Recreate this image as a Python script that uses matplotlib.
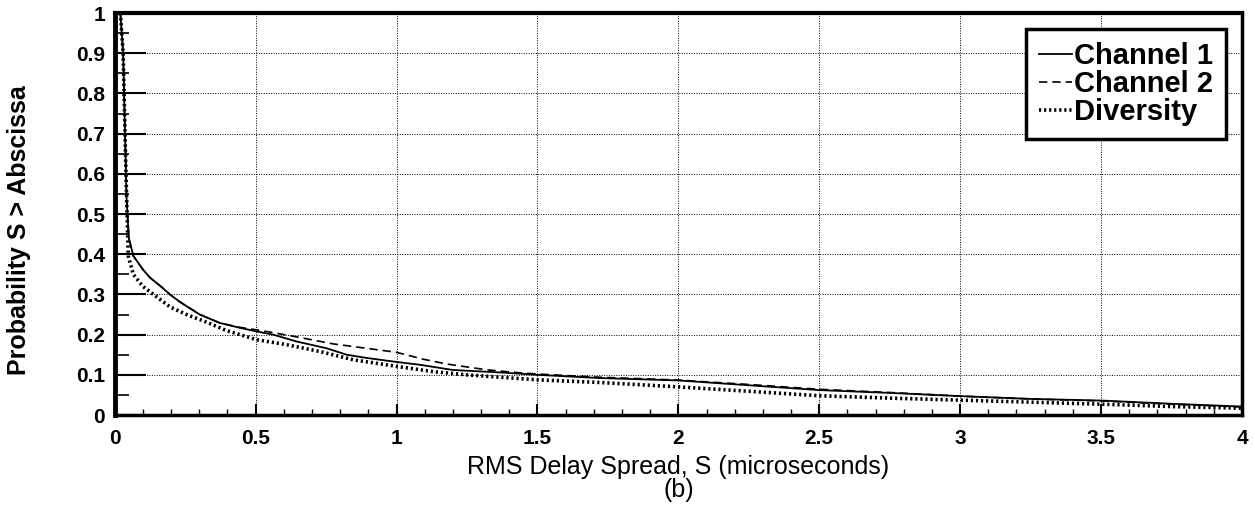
import matplotlib
matplotlib.use("Agg")
import matplotlib.pyplot as plt
from matplotlib.ticker import MultipleLocator, FixedLocator

plt.rcParams['font.family'] = ['Liberation Sans', 'DejaVu Sans']

ch1_x = [0.02, 0.03, 0.042, 0.05, 0.066, 0.1, 0.125, 0.167, 0.196, 0.232, 0.302, 0.373,
         0.444, 0.503, 0.562, 0.645, 0.752, 0.823, 0.894, 1.0, 1.083, 1.2, 1.366, 1.5,
         1.72, 2.0, 2.25, 2.5, 2.75, 3.0, 3.25, 3.5, 3.75, 4.0]
ch1_y = [1.0, 0.9, 0.54, 0.44, 0.396, 0.362, 0.342, 0.318, 0.3, 0.281, 0.25, 0.229,
         0.217, 0.208, 0.2, 0.183, 0.166, 0.15, 0.142, 0.132, 0.125, 0.112, 0.106, 0.1,
         0.092, 0.086, 0.074, 0.062, 0.055, 0.047, 0.04, 0.036, 0.028, 0.021]

ch2_x = [0.02, 0.03, 0.042, 0.05, 0.066, 0.1, 0.125, 0.167, 0.196, 0.232, 0.302, 0.373,
         0.444, 0.503, 0.562, 0.633, 0.775, 1.0, 1.094, 1.177, 1.32, 1.42, 1.5, 1.72, 2.0,
         2.25, 2.5, 2.75, 3.0, 3.25, 3.5, 3.75, 4.0]
ch2_y = [1.0, 0.9, 0.54, 0.44, 0.396, 0.362, 0.342, 0.318, 0.3, 0.281, 0.25, 0.229,
         0.218, 0.212, 0.205, 0.196, 0.177, 0.156, 0.139, 0.127, 0.1125, 0.106, 0.102, 0.094,
         0.087, 0.076, 0.064, 0.056, 0.047, 0.04, 0.035, 0.027, 0.02]

div_x = [0.02, 0.03, 0.04, 0.048, 0.066, 0.1, 0.149, 0.196, 0.255, 0.326, 0.397, 0.503,
         0.61, 0.728, 0.846, 1.0, 1.13, 1.248, 1.5, 1.72, 2.0, 2.25, 2.5, 2.75, 3.0,
         3.25, 3.5, 3.75, 4.0]
div_y = [1.0, 0.9, 0.6, 0.396, 0.35, 0.32, 0.294, 0.269, 0.25, 0.231, 0.21, 0.1875,
         0.175, 0.158, 0.1375, 0.121, 0.108, 0.1, 0.0875, 0.081, 0.07, 0.059, 0.048, 0.042,
         0.037, 0.032, 0.027, 0.021, 0.017]

x_ticks = [0, 0.5, 1, 1.5, 2, 2.5, 3, 3.5, 4]
x_labels = ['0', '0.5', '1', '1.5', '2', '2.5', '3', '3.5', '4']
y_ticks = [0, 0.1, 0.2, 0.3, 0.4, 0.5, 0.6, 0.7, 0.8, 0.9, 1]
y_labels = ['0', '0.1', '0.2', '0.3', '0.4', '0.5', '0.6', '0.7', '0.8', '0.9', '1']

fig = plt.figure(figsize=(12.55, 5.24), dpi=100)
ax = fig.add_axes([0.0914, 0.208, 0.8982, 0.767])

ax.plot(ch1_x, ch1_y, color='black', lw=1.3, ls='-', label='Channel 1')
ax.plot(ch2_x, ch2_y, color='black', lw=1.2, ls=(0, (5, 3)), label='Channel 2')
ax.plot(div_x, div_y, color='black', lw=2.6, ls=(0, (0.6, 0.8)), label='Diversity')

ax.set_xlim(0, 4)
ax.set_ylim(0, 1)
ax.xaxis.set_major_locator(FixedLocator(x_ticks))
ax.set_xticklabels(x_labels)
ax.yaxis.set_major_locator(FixedLocator(y_ticks))
ax.set_yticklabels(y_labels)
ax.xaxis.set_minor_locator(MultipleLocator(0.1))
ax.yaxis.set_minor_locator(MultipleLocator(0.05))

ax.tick_params(axis='x', which='major', direction='in', length=8, width=1.5,
               labelsize=15, pad=10)
ax.tick_params(axis='x', which='minor', direction='in', length=4, width=1)
ax.tick_params(axis='y', which='major', direction='in', length=22, width=1.5,
               labelsize=15, pad=7)
ax.tick_params(axis='y', which='minor', direction='in', length=10, width=1.2)
for lab in ax.get_xticklabels() + ax.get_yticklabels():
    lab.set_fontweight('bold')

ax.grid(True, which='major', color='black', ls=(0, (1, 1.5)), lw=0.7)

for side, w in [('left', 3.5), ('bottom', 2.5), ('top', 3.0), ('right', 2.5)]:
    ax.spines[side].set_linewidth(w)

ax.set_xlabel('RMS Delay Spread, S (microseconds)\n(b)', fontsize=18, labelpad=5,
              linespacing=0.95)
ax.set_ylabel('Probability S > Abscissa', fontsize=18, fontweight='bold', labelpad=14)
ax.yaxis.set_label_coords(-0.074, 0.46)

leg = ax.legend(loc='upper right', prop={'size': 21, 'weight': 'bold'}, frameon=True,
                fancybox=False, handlelength=1.15, handletextpad=0.05, borderpad=0.45,
                labelspacing=0.0, borderaxespad=0.55)
leg.get_frame().set_edgecolor('black')
leg.get_frame().set_linewidth(2.5)
leg.get_frame().set_alpha(1)

fig.savefig('out.png', dpi=100)
